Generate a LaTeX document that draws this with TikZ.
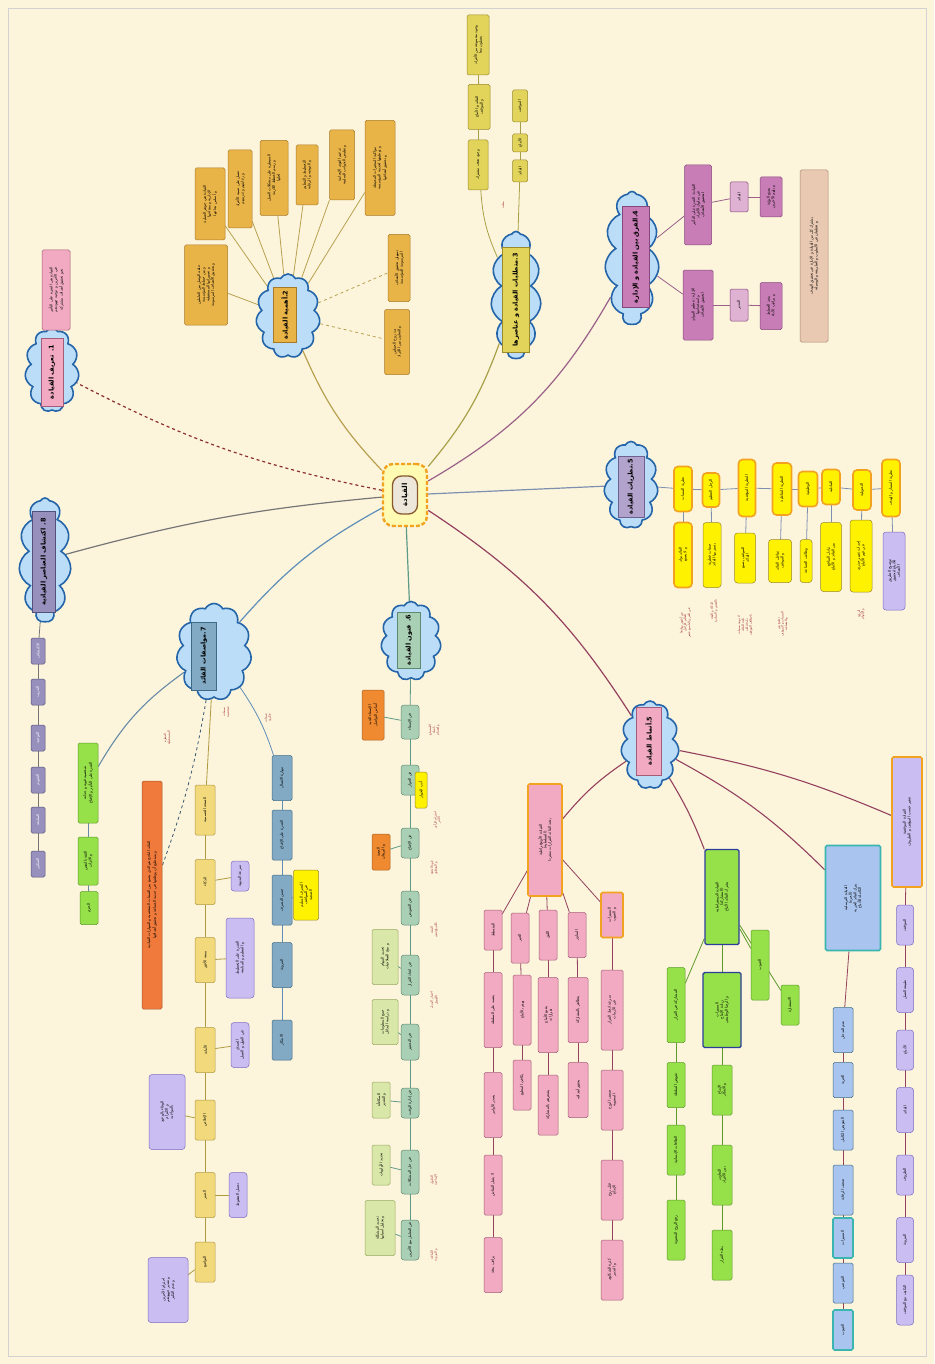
\documentclass[tikz,border=0pt]{standalone}
\usepackage{fontspec}
\newfontfamily\arabicfont[Script=Arabic]{DejaVu Sans}
\TeXXeTstate=1
\usetikzlibrary{shapes.symbols}
\pgfdeclarelayer{bgl}
\pgfdeclarelayer{edl}
\pgfsetlayers{bgl,edl,main}
\definecolor{bgc}{HTML}{FCF5DC}
\definecolor{ccl}{HTML}{BBDDF7}
\definecolor{cbl}{HTML}{2464A8}
\definecolor{cpk}{HTML}{F2AAC2}
\definecolor{cpkd}{HTML}{A45C78}
\definecolor{cor}{HTML}{E9B447}
\definecolor{cord}{HTML}{A87A28}
\definecolor{cye}{HTML}{E2D45A}
\definecolor{cyed}{HTML}{9A8A2A}
\definecolor{cmg}{HTML}{C97DB6}
\definecolor{cmgd}{HTML}{84487A}
\definecolor{clv}{HTML}{B2A3CC}
\definecolor{clvd}{HTML}{6E6090}
\definecolor{cgn}{HTML}{A9CFB5}
\definecolor{cgnd}{HTML}{5E8A70}
\definecolor{cbu}{HTML}{82AAC4}
\definecolor{cbud}{HTML}{3E6A86}
\definecolor{cpu}{HTML}{9890BC}
\definecolor{cpud}{HTML}{54507E}
\definecolor{cyy}{HTML}{FFF200}
\definecolor{corb}{HTML}{F2A21E}
\definecolor{clav}{HTML}{C9BDF2}
\definecolor{clavd}{HTML}{7D6CC4}
\definecolor{cgr}{HTML}{96E04A}
\definecolor{cgrd}{HTML}{5C9A2A}
\definecolor{cnv}{HTML}{2C3E9A}
\definecolor{cteal}{HTML}{3AB5B0}
\definecolor{clb}{HTML}{A9C4EE}
\definecolor{cbr}{HTML}{E9C9B2}
\definecolor{cbrd}{HTML}{A88A70}
\definecolor{cred}{HTML}{A0282A}
\definecolor{coa}{HTML}{F08A30}
\definecolor{cob}{HTML}{F07A3C}
\definecolor{cyl}{HTML}{F2DA7C}
\definecolor{cyld}{HTML}{B09A40}
\definecolor{cgl}{HTML}{D9E8A8}
\definecolor{cgld}{HTML}{98A860}
\definecolor{cin}{HTML}{EDE6DA}
\definecolor{ea}{HTML}{8A2E30}
\definecolor{eb}{HTML}{B8A050}
\definecolor{ec}{HTML}{A8A048}
\definecolor{ed}{HTML}{9A6088}
\definecolor{ee}{HTML}{7F8FB0}
\definecolor{ef}{HTML}{5E9A88}
\definecolor{eg}{HTML}{5E8EB8}
\definecolor{eh}{HTML}{767676}
\definecolor{ei}{HTML}{94405E}
\newcommand\ar[1]{\beginR #1\endR}
\newcommand\bx[7]{\node[#6, minimum width=#5, minimum height=#4, rotate=90] (#1) at (#2,#3) {#7};}
\newcommand\rtx[4]{\node[rt, rotate=90] (#1) at (#2,#3) {#4};}
\tikzset{
 bb/.style={draw, rounded corners=1.5, inner sep=0.8pt, align=center, line width=0.5,
   font=\arabicfont\fontsize{3.8}{4.6}\selectfont},
 pk/.style={bb, fill=cpk, draw=cpkd},
 or/.style={bb, fill=cor, draw=cord},
 ye/.style={bb, fill=cye, draw=cyed},
 mg/.style={bb, fill=cmg, draw=cmgd},
 mgl/.style={bb, fill=cmg!60, draw=cmgd},
 br/.style={bb, fill=cbr, draw=cbrd},
 th/.style={bb, fill=cyy, draw=corb, line width=1.6, rounded corners=4},
 ty/.style={bb, fill=cyy, draw=cyed, rounded corners=3},
 lav/.style={bb, fill=clav, draw=clavd, rounded corners=3},
 gn/.style={bb, fill=cgn, draw=cgnd, rounded corners=3},
 gl/.style={bb, fill=cgl, draw=cgld},
 oa/.style={bb, fill=coa, draw=coa!70!black},
 yy/.style={bb, fill=cyy, draw=cyed},
 bu/.style={bb, fill=cbu, draw=cbud},
 yl/.style={bb, fill=cyl, draw=cyld},
 gr/.style={bb, fill=cgr, draw=cgrd},
 grn/.style={bb, fill=cgr, draw=cnv, line width=1.4},
 lb/.style={bb, fill=clb, draw=cbud},
 lbt/.style={bb, fill=clb, draw=cteal, line width=1.6},
 pu/.style={bb, fill=cpu, draw=cpud, text=white},
 pko/.style={bb, fill=cpk, draw=corb, line width=1.6},
 lvo/.style={bb, fill=clav, draw=corb, line width=1.6},
 cl/.style={cloud, cloud puffs=11, cloud puff arc=125, cloud ignores aspect, draw=cbl, line width=1.6, fill=ccl, inner sep=0},
 hd/.style={draw, line width=0.7, inner sep=1pt, font=\arabicfont\bfseries\fontsize{6.5}{7.5}\selectfont},
 rt/.style={text=cred, font=\arabicfont\fontsize{3.2}{3.8}\selectfont, align=center, inner sep=0},
 ln/.style={line width=0.8},
}
\begin{document}
\begin{tikzpicture}[x=1pt,y=-1pt]
\useasboundingbox (0,0) rectangle (934,1364);
\begin{pgfonlayer}{bgl}
\fill[bgc] (0,0) rectangle (934,1364);
\draw[gray!35, line width=0.6] (8,8) rectangle (926,1356);
\end{pgfonlayer}

% ---------- centre ----------
\node[draw=corb, dash pattern=on 4pt off 2pt, line width=2.4, fill=cyy!30, rounded corners=10, minimum width=44, minimum height=62] (cf) at (405,495) {};
\node[draw=brown!70!black, line width=1.3, fill=cin, rounded corners=9, minimum width=38, minimum height=25, rotate=90, font=\arabicfont\bfseries\fontsize{7}{8}\selectfont] (c0) at (405,495) {\ar{القيادة}};

% ---------- clouds ----------
\node[cl, minimum width=54, minimum height=84] (k1) at (52,370) {};
\node[hd, fill=cpk, draw=cpkd, minimum width=68, minimum height=22, rotate=90] (h1) at (52,372) {\ar{1. تعريف القيادة}};
\node[cl, minimum width=64, minimum height=84] (k2) at (288,316) {};
\node[hd, fill=cor, draw=cord, minimum width=55, minimum height=23, rotate=90] (h2) at (285,315) {\ar{2.أهمية القيادة}};
\node[cl, minimum width=50, minimum height=127] (k3) at (516,295) {};
\node[hd, fill=cye, draw=cyed, minimum width=105, minimum height=27, rotate=90] (h3) at (516,300) {\ar{3.متطلبات القيادة و عناصرها}};
\node[cl, minimum width=54, minimum height=133] (k4) at (632,258) {};
\node[hd, fill=cmg, draw=cmgd, minimum width=101, minimum height=27, rotate=90] (h4) at (636,257) {\ar{4.الفرق بين القيادة و الإدارة}};
\node[cl, minimum width=54, minimum height=87] (k5) at (631,485) {};
\node[hd, fill=clv, draw=clvd, minimum width=61, minimum height=26, rotate=90] (h5) at (631,487) {\ar{5.نظريات القيادة}};
\node[cl, minimum width=60, minimum height=79] (k6) at (411,641) {};
\node[hd, fill=cgn, draw=cgnd, minimum width=56, minimum height=23, rotate=90] (h6) at (409,640) {\ar{6. فنون القيادة}};
\node[cl, minimum width=75, minimum height=97] (k7) at (214,652) {};
\node[hd, fill=cbu, draw=cbud, minimum width=68, minimum height=25, rotate=90] (h7) at (204,656) {\ar{7.مواصفات القائد}};
\node[cl, minimum width=52, minimum height=124] (k8) at (45,560) {};
\node[hd, fill=cpu, draw=cpud, minimum width=101, minimum height=23, rotate=90] (h8) at (44,562) {\ar{8. اكتشاف العناصر القيادية}};
\node[cl, minimum width=58, minimum height=88] (k9) at (650,745) {};
\node[hd, fill=cpk, draw=cpkd, minimum width=68, minimum height=25, rotate=90] (h9) at (649,741) {\ar{5.أنماط القيادة}};

% ---------- 1 ----------
\bx{a1}{56}{290}{28}{80}{pk}{\ar{القيادة هي القدرة على التأثير}\\\ar{في الآخرين و توجيه جهودهم}\\\ar{نحو تحقيق أهداف مشتركة}}

% ---------- 2 ----------
\bx{b1}{210}{204}{30}{72}{or}{\ar{القيادة هي جوهر العملية}\\\ar{الإدارية و مفتاحها}\\\ar{و أساس نجاحها}}
\bx{b2}{240}{189}{24}{78}{or}{\ar{تعمل على تنمية الأفراد}\\\ar{و رعايتهم و تدريبهم}}
\bx{b3}{274}{178}{28}{75}{or}{\ar{السيطرة على مشكلات العمل}\\\ar{و رسم الخطط اللازمة}\\\ar{لحلها}}
\bx{b4}{307}{175}{22}{60}{or}{\ar{التخطيط و التنظيم}\\\ar{و التوجيه و الرقابة}}
\bx{b5}{342}{165}{25}{70}{or}{\ar{تدعيم القوى الإيجابية}\\\ar{و تقليص الجوانب السلبية}}
\bx{b6}{380}{168}{30}{95}{or}{\ar{مواكبة المتغيرات المحيطة}\\\ar{و توظيفها لخدمة المؤسسة}\\\ar{و تحقيق أهدافها}}
\bx{b7}{206}{285}{43}{80}{or}{\ar{حلقة الوصل بين العاملين}\\\ar{و بين خطط المؤسسة}\\\ar{و تصوراتها المستقبلية}\\\ar{و تحقيق الأهداف المرسومة}}
\bx{b8}{399}{268}{22}{67}{or}{\ar{تسهيل تحقيق الأهداف}\\\ar{المرسومة للمؤسسة}}
\bx{b9}{397}{342}{25}{65}{or}{\ar{بث روح الحماس}\\\ar{و التعاون بين الأفراد}}

% ---------- 3 ----------
\bx{p1}{478}{165}{20}{50}{ye}{\ar{وجود هدف مشترك}}
\bx{p2}{479}{107}{22}{45}{ye}{\ar{القائد و الأتباع}\\\ar{و الموقف}}
\bx{p3}{478}{45}{22}{60}{ye}{\ar{وجود مجموعة من الأفراد}\\\ar{يعملون معا}}
\bx{p4}{520}{171}{15}{22}{ye}{\ar{القائد}}
\bx{p5}{520}{143}{15}{18}{ye}{\ar{الأتباع}}
\bx{p6}{520}{106}{15}{32}{ye}{\ar{الموقف}}
\rtx{r3}{503}{205}{\ar{مثلث}}

% ---------- 4 ----------
\bx{m1}{698}{205}{27}{80}{mg}{\ar{القيادة: القدرة على التأثير}\\\ar{في سلوك الأفراد}\\\ar{لتحقيق الأهداف}}
\bx{m2}{739}{197}{18}{30}{mgl}{\ar{القائد}}
\bx{m3}{771}{197}{22}{40}{mg}{\ar{يصنع الرؤية}\\\ar{و يلهم الآخرين}}
\bx{m4}{698}{305}{30}{70}{mg}{\ar{الإدارة: تنظيم الموارد}\\\ar{و استخدامها}\\\ar{لتحقيق الأهداف}}
\bx{m5}{739}{305}{18}{32}{mgl}{\ar{المدير}}
\bx{m6}{771}{306}{22}{47}{mg}{\ar{ينفذ الخطط}\\\ar{و يراقب الأداء}}
\bx{m7}{814}{256}{28}{172}{br}{\ar{يشترك كل من القيادة و الإدارة في تحقيق الهدف}\\\ar{و تختلفان في الأسلوب و الطريقة و الوسيلة}}

% ---------- 5 theories ----------
\foreach \x/\y/\w/\h/\t [count=\i] in {683/489/18/45/{نظرية السمات},711/490/17/34/{الرجل العظيم},747/488/17/57/{النظرية الموقفية},782/489/19/52/{النظرية التفاعلية},808/489/19/35/{الوظيفية},831/487/18/35/{التبادلية},862/490/18/40/{التحويلية},891/488/18/57/{نظرية المسار و الهدف}}
  {\bx{t\i}{\x}{\y}{\w}{\h}{th}{\ar{\t}}}
\bx{s1}{683}{555}{18}{65}{th}{\ar{القائد يولد}\\\ar{و لا يصنع}}
\bx{s2}{712}{555}{18}{65}{ty}{\ar{صفات فطرية}\\\ar{يتميز بها القائد}}
\bx{s3}{745}{558}{21}{50}{ty}{\ar{الموقف يصنع}\\\ar{القائد}}
\bx{s4}{780}{561}{23}{43}{ty}{\ar{تفاعل القائد}\\\ar{و الموقف}}
\bx{s5}{806}{561}{12}{43}{ty}{\ar{وظائف الجماعة}}
\bx{s6}{831}{557}{21}{69}{ty}{\ar{تبادل المنافع}\\\ar{بين القائد و الأتباع}}
\bx{s7}{861}{556}{22}{72}{ty}{\ar{إحداث تغيير جذري}\\\ar{في قيم الأتباع}}
\bx{s8}{894}{571}{22}{78}{lav}{\ar{توضيح الطريق}\\\ar{للأتباع لتحقيق}\\\ar{الأهداف}}
\rtx{r51}{685}{623}{\ar{من أشهر روادها}\\\ar{العالم كارلايل}\\\ar{في القرن التاسع عشر}}
\rtx{r52}{714}{611}{\ar{الذكاء و الثقة}\\\ar{بالنفس و المبادرة}}
\rtx{r53}{745}{625}{\ar{لا توجد صفات}\\\ar{ثابتة للقائد}\\\ar{بل تختلف}\\\ar{باختلاف الموقف}}
\rtx{r54}{783}{624}{\ar{تجمع بين}\\\ar{السمات و الموقف}\\\ar{و الجماعة}}
\rtx{r57}{861}{614}{\ar{الرؤية}\\\ar{و الإلهام}}

% ---------- 6 ----------
\foreach \y/\h/\t [count=\i] in {722/34/{فن الإصغاء},780/30/{فن الحوار},843/30/{فن الإقناع},908/34/{فن التفويض},975/40/{فن اتخاذ القرار},1042/36/{فن التحفيز},1103/30/{فن إدارة الوقت},1172/44/{فن حل المشكلات},1240/40/{فن التعامل مع الآخرين}}
  {\bx{n\i}{410}{\y}{18}{\h}{gn}{\ar{\t}}}
\bx{o61}{373}{715}{22}{50}{oa}{\ar{الإصغاء الجيد}\\\ar{أساس التواصل}}
\bx{y61}{421}{790}{12}{36}{yy}{\ar{أدب الحوار}}
\bx{o62}{381}{852}{18}{36}{oa}{\ar{الحجة}\\\ar{و البرهان}}
\bx{g61}{385}{957}{26}{55}{gl}{\ar{تحديد المهام}\\\ar{و منح الصلاحيات}}
\bx{g62}{385}{1022}{26}{45}{gl}{\ar{جمع المعلومات}\\\ar{و دراسة البدائل}}
\bx{g63}{381}{1100}{18}{36}{gl}{\ar{المكافأة}\\\ar{و التقدير}}
\bx{g64}{381}{1165}{18}{40}{gl}{\ar{تحديد الأولويات}}
\bx{g65}{380}{1228}{30}{55}{gl}{\ar{تحديد المشكلة}\\\ar{و تحليل أسبابها}}
\rtx{r61}{434}{730}{\ar{الاستماع}\\\ar{بانتباه}\\\ar{و اهتمام}}
\rtx{r62}{437}{820}{\ar{احترام الرأي}\\\ar{الآخر}}
\rtx{r63}{434}{868}{\ar{قوة الحجة}\\\ar{و المنطق}}
\rtx{r64}{434}{930}{\ar{الثقة}\\\ar{بالمرؤوسين}}
\rtx{r65}{434}{1000}{\ar{اختيار البديل}\\\ar{الأفضل}}
\rtx{r66}{434}{1180}{\ar{الحلول}\\\ar{الإبداعية}}
\rtx{r67}{434}{1255}{\ar{اللباقة}\\\ar{و المرونة}}

% ---------- 7 ----------
\bx{g71}{88}{783}{20}{80}{gr}{\ar{شخصية قوية و جذابة}\\\ar{القدرة على التأثير و الإقناع}}
\bx{g72}{88}{861}{20}{48}{gr}{\ar{الثقة بالنفس}\\\ar{و الاتزان}}
\bx{g73}{89}{908}{18}{33}{gr}{\ar{الحزم}}
\bx{o71}{152}{895}{20}{228}{bb, fill=cob, draw=cob!70!black}{\ar{القائد الناجح هو الذي يجمع بين الصفات الشخصية و المهارات القيادية}\\\ar{و يستطيع أن يوظفها في خدمة الجماعة و تحقيق أهدافها}}
\rtx{r71}{167}{738}{\ar{النظرة}\\\ar{المستقبلية}}
\rtx{r72}{226}{712}{\ar{صفات}\\\ar{شخصية}}
\rtx{r73}{268}{718}{\ar{صفات}\\\ar{فكرية}}
\foreach \y/\h/\t [count=\i] in {810/50/{الصحة الجسمية},882/45/{الذكاء},960/45/{سعة الأفق},1050/45/{الأمانة},1120/40/{الإخلاص},1195/45/{الصبر},1262/40/{التواضع}}
  {\bx{y7\i}{205}{\y}{20}{\h}{yl}{\ar{\t}}}
\bx{l71}{240}{876}{18}{30}{lav}{\ar{سرعة البديهة}}
\bx{l72}{240}{958}{28}{80}{lav}{\ar{القدرة على التخطيط}\\\ar{و التنظيم و المتابعة}}
\bx{l73}{240}{1045}{18}{45}{lav}{\ar{الصدق}\\\ar{في القول و العمل}}
\bx{l74}{167}{1112}{36}{75}{lav}{\ar{الوفاء بالوعود}\\\ar{و الالتزام}\\\ar{بالمواعيد}}
\bx{l75}{238}{1195}{18}{45}{lav}{\ar{تحمل الضغوط}}
\bx{l76}{168}{1290}{40}{65}{lav}{\ar{احترام الآخرين}\\\ar{و تقدير جهودهم}\\\ar{و عدم التكبر}}
\foreach \y/\h/\t [count=\i] in {778/45/{مهارة الاتصال},835/50/{القدرة على الإقناع},900/50/{حسن التصرف},965/45/{المرونة},1040/40/{الابتكار}}
  {\bx{u7\i}{282}{\y}{20}{\h}{bu}{\ar{\t}}}
\bx{y7b}{306}{895}{25}{50}{yy}{\ar{التصرف السليم}\\\ar{في المواقف}\\\ar{الصعبة}}

% ---------- 8 ----------
\foreach \y/\t [count=\i] in {651/{الاكتشاف},692/{التدريب},738/{التوجيه},780/{التقويم},820/{المتابعة},864/{التمكين}}
  {\bx{q\i}{38}{\y}{14}{26}{pu}{\ar{\t}}}

% ---------- 5 patterns ----------
\bx{P1}{545}{840}{34}{112}{pko}{\ar{القيادة الأوتوقراطية}\\\ar{(التسلطية)}\\\ar{يتخذ القائد القرارات منفردا}}
\bx{P2}{722}{897}{34}{95}{grn}{\ar{القيادة الديمقراطية}\\\ar{(المشاركة)}\\\ar{يشرك القائد الأتباع}}
\bx{P3}{853}{898}{55}{105}{lbt}{\ar{القيادة الترسلية}\\\ar{(الحرة)}\\\ar{يترك القائد الحرية}\\\ar{الكاملة للأتباع}}
\bx{P4}{907}{822}{30}{130}{lvo}{\ar{القيادة الموقفية}\\\ar{تتغير حسب الموقف و الظروف}}
\bx{e1}{493}{930}{18}{40}{pk}{\ar{المتسلط}}
\bx{e2}{520}{938}{18}{50}{pk}{\ar{الخير}}
\bx{e3}{548}{935}{18}{50}{pk}{\ar{اللبق}}
\bx{e4}{577}{935}{18}{45}{pk}{\ar{المناور}}
\bx{e5}{612}{915}{22}{45}{pko}{\ar{المميزات}\\\ar{و العيوب}}
\bx{e11}{493}{1010}{18}{75}{pk}{\ar{يعتمد على السلطة}}
\bx{e12}{493}{1105}{18}{65}{pk}{\ar{يصدر الأوامر}}
\bx{e13}{493}{1185}{18}{60}{pk}{\ar{لا يقبل النقاش}}
\bx{e14}{493}{1265}{18}{55}{pk}{\ar{يراقب بدقة}}
\bx{e21}{522}{1010}{18}{70}{pk}{\ar{يهتم بالأتباع}}
\bx{e22}{522}{1085}{18}{50}{pk}{\ar{يكافئ المطيع}}
\bx{e31}{548}{1015}{20}{75}{pk}{\ar{يقنع الأتباع}\\\ar{بقراراته}}
\bx{e32}{548}{1105}{20}{60}{pk}{\ar{يشعرهم بالمشاركة}}
\bx{e41}{578}{1010}{20}{65}{pk}{\ar{يتظاهر بالمشاركة}}
\bx{e42}{578}{1090}{20}{55}{pk}{\ar{يحقق أهدافه}}
\bx{e51}{612}{1010}{22}{80}{pk}{\ar{سرعة اتخاذ القرار}\\\ar{في الأزمات}}
\bx{e52}{612}{1100}{22}{60}{pk}{\ar{ضعف الروح}\\\ar{المعنوية}}
\bx{e53}{612}{1190}{22}{60}{pk}{\ar{قتل روح}\\\ar{الإبداع}}
\bx{e54}{612}{1270}{22}{60}{pk}{\ar{كثرة الشكاوى}\\\ar{و التذمر}}
\bx{f11}{676}{1005}{18}{75}{gr}{\ar{المشاركة في القرار}}
\bx{f12}{676}{1085}{18}{45}{gr}{\ar{تفويض السلطة}}
\bx{f13}{676}{1150}{18}{50}{gr}{\ar{العلاقات الإنسانية}}
\bx{f14}{676}{1230}{18}{60}{gr}{\ar{رفع الروح المعنوية}}
\bx{f21}{722}{1010}{38}{75}{grn}{\ar{المميزات}\\\ar{زيادة الإنتاج}\\\ar{و الرضا الوظيفي}}
\bx{f22}{722}{1090}{20}{50}{gr}{\ar{الإبداع}\\\ar{و الابتكار}}
\bx{f23}{722}{1175}{20}{60}{gr}{\ar{التعاون}\\\ar{بين الأفراد}}
\bx{f24}{722}{1255}{20}{50}{gr}{\ar{بطء القرار}}
\bx{f31}{760}{965}{18}{70}{gr}{\ar{العيوب}}
\bx{f41}{790}{1005}{18}{40}{gr}{\ar{الاستشارة}}
\foreach \y/\h/\s/\t [count=\i] in {1030/45/lb/{عدم التدخل},1080/35/lb/{الحرية},1130/40/lb/{التفويض الكامل},1190/50/lb/{ضعف الرقابة},1238/40/lbt/{المميزات},1283/40/lb/{الفوضى},1330/40/lbt/{العيوب}}
  {\bx{v\i}{843}{\y}{20}{\h}{\s}{\ar{\t}}}
\foreach \y/\h/\t [count=\i] in {925/40/{الموقف},990/45/{طبيعة العمل},1050/40/{الأتباع},1110/45/{القائد},1175/40/{الظروف},1240/45/{المرونة},1300/50/{التكيف مع الموقف}}
  {\bx{w\i}{905}{\y}{17}{\h}{lav}{\ar{\t}}}

% ---------- connectors ----------
\begin{pgfonlayer}{edl}
\draw[ln, ea, dashed, line width=1.2] (cf) to[bend left=8] (k1);
\draw[ln, eb, line width=1.2] (cf) to[bend left=10] (k2);
\draw[ln, ec, line width=1.2] (cf) to[bend right=10] (k3);
\draw[ln, ed, line width=1.2] (cf) to[bend right=15] (k4);
\draw[ln, ee, line width=1.2] (cf) -- (k5);
\draw[ln, ef, line width=1.2] (cf) -- (k6);
\draw[ln, eg, line width=1.2] (cf) to[bend right=10] (k7);
\draw[ln, eh, line width=1.2] (cf) to[bend right=5] (k8);
\draw[ln, ei, line width=1.2] (cf) to[bend left=12] (k9);
% 1
\draw[ln, ea] (k1) -- (a1);
% 2
\foreach \b in {b1,b2,b3,b4,b5,b6,b7} {\draw[ln, eb] (k2) -- (\b);}
\draw[ln, eb, dashed] (k2) -- (b8);
\draw[ln, eb, dashed] (k2) -- (b9);
% 3
\draw[ln, ec] (k3) to[bend left=10] (p1);
\draw[ln, ec] (p1) -- (p2);
\draw[ln, ec] (p2) -- (p3);
\draw[ln, ec] (k3) -- (p4);
\draw[ln, ec] (p4) -- (p5);
\draw[ln, ec] (p5) -- (p6);
% 4
\draw[ln, ed] (k4) -- (m1);
\draw[ln, ed] (m1) -- (m2);
\draw[ln, ed] (m2) -- (m3);
\draw[ln, ed] (k4) -- (m4);
\draw[ln, ed] (m4) -- (m5);
\draw[ln, ed] (m5) -- (m6);
% 5 theories
\draw[ln, ee] (k5) -- (t1);
\foreach \i in {2,...,8} {\pgfmathtruncatemacro\j{\i-1}\draw[ln, ee] (t\j) -- (t\i);}
\foreach \i in {1,...,8} {\draw[ln, ee] (t\i) -- (s\i);}
% 6
\draw[ln, ef] (k6) -- (n1);
\foreach \i in {2,...,9} {\pgfmathtruncatemacro\j{\i-1}\draw[ln, ef] (n\j) -- (n\i);}
\draw[ln, ef] (n1) -- (o61);
\draw[ln, ef] (n2) -- (y61);
\draw[ln, ef] (n3) -- (o62);
\draw[ln, ef] (n5) -- (g61);
\draw[ln, ef] (n6) -- (g62);
\draw[ln, ef] (n7) -- (g63);
\draw[ln, ef] (n8) -- (g64);
\draw[ln, ef] (n9) -- (g65);
% 7
\draw[ln, eg!70!gray, line width=1.1] (k7) to[bend right=12] (g71);
\draw[ln, eg!70!gray] (g71) -- (g72);
\draw[ln, eg!70!gray] (g72) -- (g73);
\draw[ln, eg!60!black, dashed] (k7) to[bend left=5] (o71);
\draw[ln, cyld] (k7) -- (y71);
\foreach \i in {2,...,7} {\pgfmathtruncatemacro\j{\i-1}\draw[ln, cyld] (y7\j) -- (y7\i);}
\draw[ln, cyld] (y72) -- (l71);
\draw[ln, cyld] (y73) -- (l72);
\draw[ln, cyld] (y74) -- (l73);
\draw[ln, cyld] (y75) -- (l74);
\draw[ln, cyld] (y76) -- (l75);
\draw[ln, cyld] (y77) -- (l76);
\draw[ln, eg] (k7) to[bend left=8] (u71);
\foreach \i in {2,...,5} {\pgfmathtruncatemacro\j{\i-1}\draw[ln, eg] (u7\j) -- (u7\i);}
\draw[ln, eg] (u73) -- (y7b);
% 8
\draw[ln, eh] (k8) -- (q1);
\foreach \i in {2,...,6} {\pgfmathtruncatemacro\j{\i-1}\draw[ln, eh] (q\j) -- (q\i);}
% 5 patterns
\draw[ln, ei, line width=1.1] (k9) to[bend right=8] (P1);
\draw[ln, ei, line width=1.1] (k9) to[bend left=5] (P2);
\draw[ln, ei, line width=1.1] (k9) to[bend left=8] (P3);
\draw[ln, ei, line width=1.1] (k9) to[bend left=6] (P4);
\foreach \e in {e1,e2,e3,e4,e5} {\draw[ln, ei] (P1) -- (\e);}
\draw[ln, ei] (e1) -- (e11); \draw[ln, ei] (e11) -- (e12); \draw[ln, ei] (e12) -- (e13); \draw[ln, ei] (e13) -- (e14);
\draw[ln, ei] (e2) -- (e21); \draw[ln, ei] (e21) -- (e22);
\draw[ln, ei] (e3) -- (e31); \draw[ln, ei] (e31) -- (e32);
\draw[ln, ei] (e4) -- (e41); \draw[ln, ei] (e41) -- (e42);
\draw[ln, ei] (e5) -- (e51); \draw[ln, ei] (e51) -- (e52); \draw[ln, ei] (e52) -- (e53); \draw[ln, ei] (e53) -- (e54);
\draw[ln, cgrd] (P2) -- (f11); \draw[ln, cgrd] (f11) -- (f12); \draw[ln, cgrd] (f12) -- (f13); \draw[ln, cgrd] (f13) -- (f14);
\draw[ln, cgrd] (P2) -- (f21); \draw[ln, cgrd] (f21) -- (f22); \draw[ln, cgrd] (f22) -- (f23); \draw[ln, cgrd] (f23) -- (f24);
\draw[ln, cgrd] (P2) -- (f31);
\draw[ln, cgrd] (P2) -- (f41);
\draw[ln, ei] (P3) -- (v1);
\foreach \i in {2,...,7} {\pgfmathtruncatemacro\j{\i-1}\draw[ln, ei] (v\j) -- (v\i);}
\draw[ln, ei] (P4) -- (w1);
\foreach \i in {2,...,7} {\pgfmathtruncatemacro\j{\i-1}\draw[ln, ei] (w\j) -- (w\i);}
\end{pgfonlayer}
\end{tikzpicture}
\end{document}
